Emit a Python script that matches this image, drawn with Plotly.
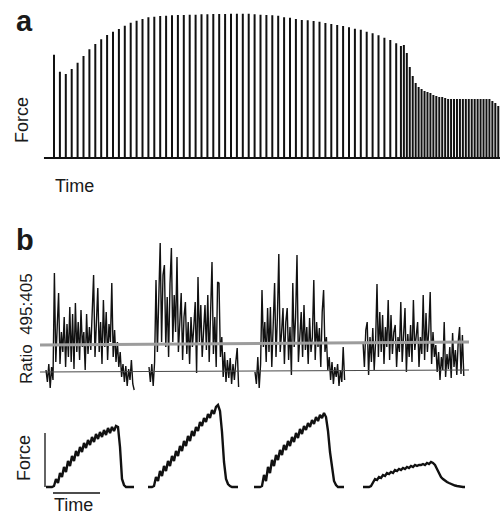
import numpy as np
import plotly.graph_objects as go

# ---------------- DATA ----------------
# Panel a: twitch peak forces (arbitrary units) at slow then fast stimulation
slow_peaks = [103.3, 86.3, 84, 89, 95.3, 102, 108.7, 114, 118.7, 123, 126.3, 129, 132.3, 135.3,
              137.3, 139, 140.7, 141.3, 142, 142.3, 142.7, 143, 143, 143.3, 143.3, 143.7, 143.7,
              144, 144, 144, 144.3, 144.3, 144.3, 144.3,
              143.7, 143.3, 143, 142.7, 142.3, 140.7, 140.3, 139, 138, 137.7, 137, 136.3, 135,
              134, 133, 132, 130.7, 129.3, 128.3, 126.3, 124.7, 122.7, 120.3, 118, 114.7]
fast_peaks = [112, 113, 105, 91, 82, 75, 71, 69, 67, 66, 65, 63, 62, 61, 61, 60,
              59, 59, 59, 59, 59, 59, 59, 59, 59, 59, 59, 59, 59, 59, 59, 57, 55, 52]
slow_interval = 1.0
fast_interval = 0.5
fast_start = 58.8

# Panel b: fluorescence ratio 495:405 during four tetani (segment start/end times)
ratio_seg_times = [(46, 134.2), (149, 238.6), (255, 344.6), (363, 463.8)]
ratio_seg1 = [1.02, 0.90, 1.08, 0.84, 1.05, 0.92, 1.99, 1.10, 1.45, 1.79, 1.08, 1.40, 1.20, 1.55,
              1.05, 1.48, 1.15, 1.65, 1.10, 1.58, 1.03, 1.69, 1.20, 1.50, 1.12, 1.62, 1.25, 1.40,
              1.02, 1.58, 1.18, 1.45, 1.22, 1.60, 1.97, 1.15, 1.55, 1.84, 1.20, 1.50, 1.08, 1.72,
              1.25, 1.60, 1.12, 1.48, 1.30, 1.89, 1.15, 1.42, 1.10, 1.30, 1.05, 1.20, 0.95, 1.08,
              0.90, 1.06, 0.86, 1.03, 0.92, 1.12, 0.88, 0.82]
ratio_seg2 = [1.05, 0.90, 1.08, 0.86, 1.10, 1.92, 1.20, 1.84, 2.29, 1.30, 1.97, 2.07, 1.25, 1.75,
              1.15, 1.88, 2.24, 1.30, 1.77, 1.40, 2.15, 1.20, 1.60, 1.79, 1.12, 1.55, 1.70, 1.18,
              1.50, 1.08, 1.55, 1.25, 1.45, 1.70, 0.99, 1.95, 1.30, 1.67, 1.15, 1.50, 1.67, 1.22,
              1.77, 1.10, 1.60, 2.10, 1.18, 1.55, 1.05, 1.90, 1.89, 1.15, 1.35, 0.95, 1.20, 0.90,
              1.12, 0.94, 1.14, 0.88, 1.08, 0.92, 1.10, 1.24, 0.85]
ratio_seg3 = [1.00, 0.88, 1.15, 0.84, 1.08, 1.82, 1.25, 1.50, 1.10, 1.64, 1.20, 1.65, 1.05, 1.45,
              1.89, 1.15, 1.55, 2.18, 1.20, 1.40, 1.64, 1.08, 1.50, 1.64, 1.12, 1.45, 0.97, 1.89,
              1.25, 1.55, 2.17, 1.10, 1.40, 1.60, 1.15, 1.67, 1.22, 1.45, 1.08, 1.54, 1.20, 1.35,
              1.92, 1.12, 1.50, 1.25, 1.44, 1.05, 1.60, 1.82, 1.20, 1.35, 1.02, 1.15, 0.92, 1.10,
              0.88, 1.05, 0.95, 1.08, 0.86, 1.02, 0.90, 1.25, 0.92]
ratio_seg4 = [1.30, 1.05, 1.42, 1.50, 0.97, 1.35, 1.10, 1.44, 1.02, 1.30, 1.88, 1.15, 1.60, 1.20,
              1.57, 1.08, 1.45, 1.25, 1.72, 1.12, 1.57, 1.18, 1.40, 1.47, 1.05, 1.35, 1.20, 1.70,
              1.10, 1.45, 1.64, 1.00, 1.38, 1.15, 1.47, 1.10, 1.72, 1.22, 1.40, 1.50, 1.05, 1.35,
              1.18, 1.77, 1.12, 1.59, 1.20, 1.42, 1.80, 1.08, 1.40, 1.15, 1.27, 1.00, 1.20, 0.92,
              1.15, 1.02, 1.50, 0.95, 1.18, 1.03, 1.25, 0.94, 1.39, 1.05, 1.22, 0.97, 1.30, 1.45,
              0.98, 1.37, 0.96]
ratio_ref_x = [40, 469]
ratio_threshold = [1.27, 1.30]
ratio_baseline = [1.00, 1.02]

# Panel b: force during the same four tetani (sampled every 2 time units)
force_dt = 2
force_seg_start = [46, 148, 254, 363]
force_seg1 = [0, 0, 0, 0, 1, 8, 4, 14, 10, 20, 15, 26, 21, 31, 26, 36, 31, 40, 35, 44, 39, 47, 42,
              50, 45, 53, 48, 55, 50, 57, 52, 59, 54, 60, 56, 61, 60, 40, 8, 2, 0, 0, 0, 0, 0]
force_seg2 = [0, 0, 0, 1, 10, 6, 16, 11, 21, 16, 26, 21, 31, 26, 36, 31, 41, 36, 46, 41, 51, 46,
              56, 51, 60, 56, 65, 61, 69, 65, 73, 69, 77, 73, 80, 82, 76, 55, 25, 8, 3, 1, 0, 0, 0, 0]
force_seg3 = [0, 0, 0, 0, 1, 12, 6, 20, 14, 27, 21, 32, 27, 37, 32, 42, 37, 46, 41, 50, 45, 54,
              49, 58, 53, 61, 57, 64, 60, 67, 63, 70, 66, 72, 69, 74, 70, 56, 35, 18, 6, 2, 0, 0, 0, 0]
force_seg4 = [0, 0, 0, 0, 1, 5, 8, 7, 10, 9, 12, 11, 14, 13, 15, 14, 17, 16, 18, 17, 19, 18, 20,
              19, 21, 20, 22, 21, 22, 22, 23, 22, 24, 23, 25, 24, 22, 18, 14, 10, 8, 6, 5, 4, 3,
              2, 1.5, 1, 0.5, 0, 0, 0]
force_bar_len = 54
time_bar_len = 47

# ---------------- FIGURE ----------------
W, H = 500, 515
def fx(px):
    return px / W
def fy(py):
    return 1 - py / H

INK = "#111111"
FONT = "Liberation Sans, Arial, sans-serif"

fig = go.Figure()

# Panel a: twitch train
slow_t = [i * slow_interval for i in range(len(slow_peaks))]
fast_t = [fast_start + i * fast_interval for i in range(len(fast_peaks))]
ax_x, ax_y = [-1.7], [0]
for t, p in zip(slow_t + fast_t, slow_peaks + fast_peaks):
    ax_x += [t, t, t]
    ax_y += [0, p, 0]
ax_x.append(76)
ax_y.append(0)
fig.add_trace(go.Scatter(x=ax_x, y=ax_y, mode="lines", xaxis="x", yaxis="y",
                         line=dict(color=INK, width=2), hoverinfo="skip"))

# Panel b: ratio traces
rx, ry = [], []
for (t0, t1), seg in zip(ratio_seg_times, [ratio_seg1, ratio_seg2, ratio_seg3, ratio_seg4]):
    rx += list(np.linspace(t0, t1, len(seg))) + [None]
    ry += seg + [None]
fig.add_trace(go.Scatter(x=rx, y=ry, mode="lines", xaxis="x2", yaxis="y2",
                         line=dict(color="#111111", width=1.4), hoverinfo="skip"))
fig.add_trace(go.Scatter(x=ratio_ref_x, y=ratio_baseline, mode="lines", xaxis="x2", yaxis="y2",
                         line=dict(color="#4a4a4a", width=1.2), hoverinfo="skip"))
fig.add_trace(go.Scatter(x=ratio_ref_x, y=ratio_threshold, mode="lines", xaxis="x2", yaxis="y2",
                         line=dict(color="#9c9c9c", width=3), hoverinfo="skip"))

# Panel b: force traces
fxs, fys = [], []
for t0, seg in zip(force_seg_start, [force_seg1, force_seg2, force_seg3, force_seg4]):
    fxs += [t0 + i * force_dt for i in range(len(seg))] + [None]
    fys += seg + [None]
fig.add_trace(go.Scatter(x=fxs, y=fys, mode="lines", xaxis="x2", yaxis="y3",
                         line=dict(color=INK, width=2.4), hoverinfo="skip"))

# scale bars
fig.add_shape(type="line", xref="x2", yref="y3", x0=45, x1=45, y0=0, y1=force_bar_len,
              line=dict(color=INK, width=1.3))
fig.add_shape(type="line", xref="x2", yref="y3", x0=53, x1=53 + time_bar_len, y0=-6, y1=-6,
              line=dict(color=INK, width=1.3))

ax_common = dict(visible=False, showgrid=False, zeroline=False, fixedrange=True)
fig.update_layout(
    width=W, height=H,
    margin=dict(l=0, r=0, t=0, b=0),
    paper_bgcolor="white", plot_bgcolor="white",
    showlegend=False,
    xaxis=dict(domain=[0, 1], range=[-54 / 5.9, 446 / 5.9], anchor="y", **ax_common),
    yaxis=dict(domain=[fy(170), fy(5)], range=[-12, 153], anchor="x", **ax_common),
    xaxis2=dict(domain=[0, 1], range=[0, 500], anchor="y2", **ax_common),
    yaxis2=dict(domain=[fy(395), fy(240)], range=[0.77, 2.32], anchor="x2", **ax_common),
    yaxis3=dict(domain=[fy(497), fy(400)], range=[-10, 87], anchor="x2", **ax_common),
)

def label(text, x, y, size, angle=0, bold=False):
    fig.add_annotation(text=f"<b>{text}</b>" if bold else text, xref="paper", yref="paper",
                       x=fx(x), y=fy(y), xanchor="center", yanchor="middle", showarrow=False,
                       textangle=angle, font=dict(family=FONT, size=size, color="#1a1a1a"))

label("a", 24, 21, 29, bold=True)
label("Force", 22, 120, 18, angle=-90)
label("Time", 74, 186, 18)
label("b", 25, 240, 29, bold=True)
label("Ratio  495:405", 26, 329, 17, angle=-90)
label("Force", 24, 458, 18, angle=-90)
label("Time", 73, 505, 18)

fig.write_html("out.html", config={"displayModeBar": False},
               post_script="document.body.style.margin='0';document.body.style.overflow='hidden';")
